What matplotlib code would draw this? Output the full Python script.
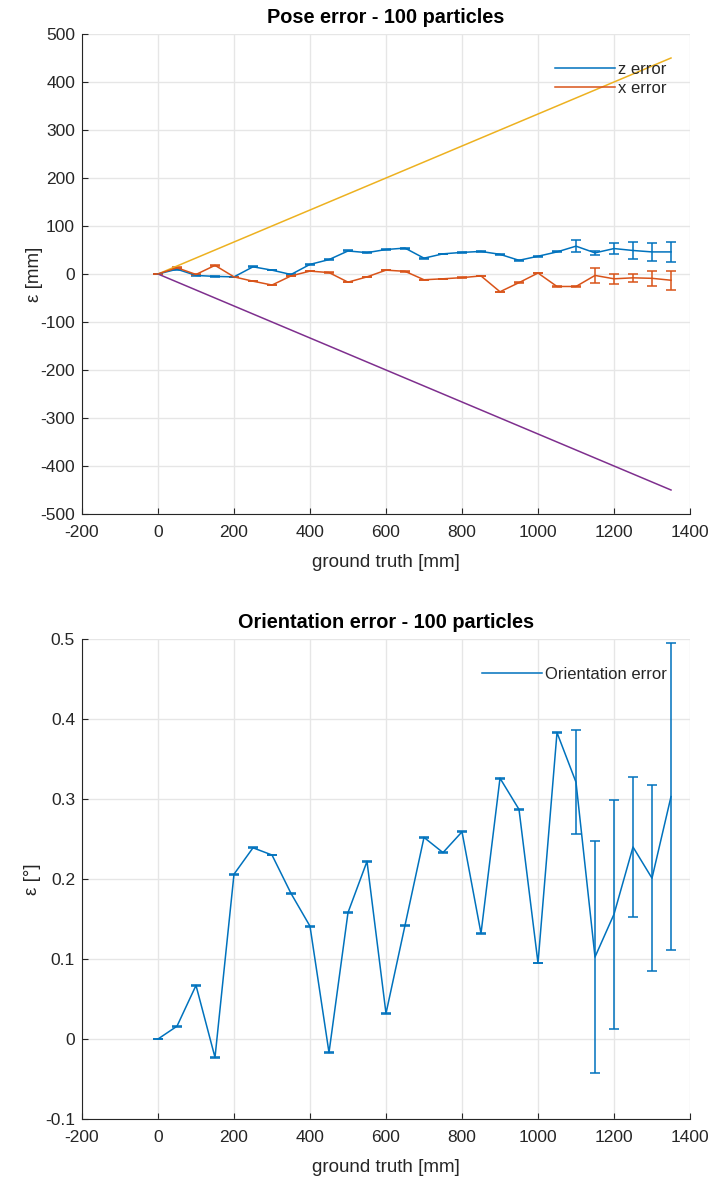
import matplotlib
matplotlib.use("Agg")
import matplotlib.pyplot as plt
from matplotlib.lines import Line2D
from matplotlib.ticker import FuncFormatter, MultipleLocator

plt.rcParams['font.family'] = ['Liberation Sans', 'DejaVu Sans']
plt.rcParams['axes.unicode_minus'] = False

# ground-truth positions [mm]
ground_truth = [0, 50, 100, 150, 200, 250, 300, 350, 400, 450, 500, 550, 600, 650,
                700, 750, 800, 850, 900, 950, 1000, 1050, 1100, 1150, 1200, 1250, 1300, 1350]

# pose error [mm]
z_error = [0, 10, -3, -5, -6, 15, 8, -1, 20, 30, 48, 44.5, 51, 54,
           33, 42, 45, 47, 41, 28.5, 37, 46, 58, 44, 53, 49, 46, 46]
z_std = [0, 1, 0.5, 0.5, 0.5, 1, 0.5, 1, 1, 1, 1, 0.5, 1, 1,
         1, 0.5, 0.5, 0.5, 0.5, 0.5, 1, 1, 12, 4.5, 11, 18, 18, 20]
x_error = [0, 13, -1, 18, -6, -15, -23, -4, 6, 3, -17, -6, 8, 5.6,
           -12, -10, -7.6, -4, -37, -18, 2, -26, -26, -3, -10, -8, -9, -13]
x_std = [0, 1, 0.5, 1, 0.5, 0.5, 0.5, 0.5, 0.5, 0.5, 0.5, 0.5, 0.5, 0.5,
         0.5, 0.5, 0.5, 0.5, 0.5, 0.5, 0.5, 0.5, 0.5, 15, 10, 9, 16, 20]

# error bounds
bound_x = [0, 1350]
bound_upper = [0, 450]
bound_lower = [0, -450]

# orientation error [deg]
orient_error = [0, 0.016, 0.067, -0.023, 0.206, 0.239, 0.230, 0.182, 0.141, -0.017,
                0.158, 0.222, 0.032, 0.142, 0.252, 0.233, 0.259, 0.132, 0.326, 0.287,
                0.095, 0.383, 0.321, 0.1025, 0.156, 0.240, 0.201, 0.303]
orient_std = [0, 0.0005, 0.0005, 0.0005, 0.0005, 0.0005, 0.0005, 0.0005, 0.0005, 0.0005,
              0.0005, 0.0005, 0.0005, 0.0005, 0.0005, 0.0005, 0.0005, 0.0005, 0.0005, 0.0005,
              0.0005, 0.0005, 0.065, 0.145, 0.143, 0.088, 0.116, 0.192]

BLUE = '#0072BD'
ORANGE = '#D95319'
YELLOW = '#EDB120'
PURPLE = '#7E2F8E'
AXC = '#262626'

TICK_FS = 12.5
LABEL_FS = 13.5
TITLE_FS = 14.3
LEGEND_FS = 12

fig = plt.figure(figsize=(7.12, 11.8), dpi=100)
W, H = 712, 1180
AX_LEFT, AX_RIGHT = 82, 690


def make_axes(top, bottom, left=AX_LEFT, right=AX_RIGHT):
    return fig.add_axes([left / W, 1 - bottom / H, (right - left) / W, (bottom - top) / H])


def style(ax):
    for s in ('top', 'right'):
        ax.spines[s].set_visible(False)
    for s in ('left', 'bottom'):
        ax.spines[s].set_color(AXC)
        ax.spines[s].set_linewidth(0.8)
    ax.grid(True, color='#e6e6e6', linewidth=1.0)
    ax.set_axisbelow(True)
    ax.tick_params(direction='in', length=4, width=0.8, color=AXC,
                   labelcolor=AXC, labelsize=TICK_FS)
    ax.tick_params(axis='x', pad=8)
    ax.tick_params(axis='y', pad=5)
    ax.yaxis.set_major_formatter(FuncFormatter(lambda v, p: '%g' % round(v, 6)))
    ax.xaxis.set_major_formatter(FuncFormatter(lambda v, p: '%g' % round(v, 6)))


def add_legend(ax, entries):
    handles = [Line2D([], [], color=c, lw=lw) for c, _ in entries]
    labels = [t for _, t in entries]
    leg = ax.legend(handles, labels, loc='upper right', bbox_to_anchor=(0.975, 0.96),
                    borderpad=0, frameon=False, fontsize=LEGEND_FS, handlelength=3.6,
                    handletextpad=0.15, labelspacing=0.25)
    for t in leg.get_texts():
        t.set_color(AXC)


def labels(ax, title, xlabel, ylabel, ylabel_x):
    ax.set_title(title, fontsize=TITLE_FS, fontweight='bold', pad=8)
    ax.set_xlabel(xlabel, fontsize=LABEL_FS, color=AXC, labelpad=10)
    ax.set_ylabel(ylabel, fontsize=LABEL_FS, color=AXC)
    ax.yaxis.set_label_coords((ylabel_x - AX_LEFT) / (AX_RIGHT - AX_LEFT), 0.5)


lw = 1.1
cap = 3.6

# --- pose error ---
ax1 = make_axes(34, 514)
style(ax1)
ax1.errorbar(ground_truth, z_error, yerr=z_std, color=BLUE, lw=lw, elinewidth=lw,
             capsize=cap, capthick=lw)
ax1.errorbar(ground_truth, x_error, yerr=x_std, color=ORANGE, lw=lw, elinewidth=lw,
             capsize=cap, capthick=lw)
ax1.plot(bound_x, bound_upper, color=YELLOW, lw=lw)
ax1.plot(bound_x, bound_lower, color=PURPLE, lw=lw)
ax1.set_xlim(-200, 1400)
ax1.set_ylim(-500, 500)
ax1.xaxis.set_major_locator(MultipleLocator(200))
ax1.yaxis.set_major_locator(MultipleLocator(100))
labels(ax1, 'Pose error - 100 particles', 'ground truth [mm]', 'ε [mm]', 43)
add_legend(ax1, [(BLUE, 'z error'), (ORANGE, 'x error')])

# --- orientation error ---
ax2 = make_axes(639, 1119)
style(ax2)
ax2.errorbar(ground_truth, orient_error, yerr=orient_std, color=BLUE, lw=lw,
             elinewidth=lw, capsize=cap, capthick=lw)
ax2.set_xlim(-200, 1400)
ax2.set_ylim(-0.1, 0.5)
ax2.xaxis.set_major_locator(MultipleLocator(200))
ax2.yaxis.set_major_locator(MultipleLocator(0.1))
labels(ax2, 'Orientation error - 100 particles', 'ground truth [mm]', 'ε [°]', 41)
add_legend(ax2, [(BLUE, 'Orientation error')])

fig.savefig('out.png', dpi=100)
